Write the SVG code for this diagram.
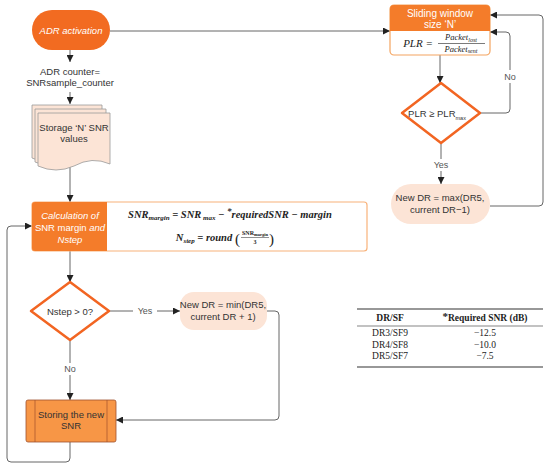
<svg xmlns="http://www.w3.org/2000/svg" width="550" height="467" viewBox="0 0 550 467">
<style>
.t{font-family:"Liberation Sans",Arial,sans-serif;font-size:9.5px;fill:#333;text-anchor:middle}
.w{fill:#fff}
.i{font-style:italic}
.m{font-family:"Liberation Serif","DejaVu Serif",serif;font-style:italic;font-weight:bold;font-size:10.5px;fill:#222;text-anchor:middle}
.c{fill:none;stroke:#666;stroke-width:1}
.lbl{font-family:"Liberation Sans",Arial,sans-serif;font-size:9px;fill:#555;text-anchor:middle}
.peach{fill:#FCE4D6;stroke:none}
.dia{fill:#fff;stroke:#F26522;stroke-width:2.5;stroke-linejoin:round}
.tb{font-family:"Liberation Serif","Times New Roman",serif;font-size:9.5px;fill:#222;text-anchor:middle}
</style>
<defs>
<marker id="ar" viewBox="0 0 10 10" refX="10" refY="5" markerWidth="7" markerHeight="7" orient="auto" markerUnits="userSpaceOnUse">
<path d="M0,0 L10,5 L0,10 z" fill="#222"/>
</marker>
</defs>
<rect width="550" height="467" fill="#fff"/>

<g id="connectors">
<path class="c" d="M110,31 H390" marker-end="url(#ar)"/>
<path class="c" d="M70,50 V62" marker-end="url(#ar)"/>
<path class="c" d="M70,92 V104" marker-end="url(#ar)"/>
<path class="c" d="M70,165 V202" marker-end="url(#ar)"/>
<path class="c" d="M440,55 V83" marker-end="url(#ar)"/>
<path class="c" d="M480,113 H506 Q510,113 510,109 V36 Q510,32 506,32 H490" marker-end="url(#ar)"/>
<path class="c" d="M441,143 V184" marker-end="url(#ar)"/>
<path class="c" d="M490,206 H539 Q543,206 543,202 V19 Q543,15 539,15 H490" marker-end="url(#ar)"/>
<path class="c" d="M70,251 V282" marker-end="url(#ar)"/>
<path class="c" d="M109,311 H180" marker-end="url(#ar)"/>
<path class="c" d="M70,340 V400" marker-end="url(#ar)"/>
<path class="c" d="M267,311 H275 Q279,311 279,315 V416 Q279,420 275,420 H116" marker-end="url(#ar)"/>
<path class="c" d="M70,442 V458 Q70,462 66,462 H11 Q7,462 7,458 V230 Q7,226 11,226 H32" marker-end="url(#ar)"/>
<rect x="498" y="70" width="24" height="13" fill="#fff"/>
<text class="lbl" x="510" y="80">No</text>
<rect x="430" y="159" width="22" height="12" fill="#fff"/>
<text class="lbl" x="441" y="168">Yes</text>
<rect x="133" y="305" width="24" height="12" fill="#fff"/>
<text class="lbl" x="145" y="314">Yes</text>
<rect x="60" y="363" width="20" height="12" fill="#fff"/>
<text class="lbl" x="70" y="372">No</text>
</g>

<g id="adr-activation">
<rect x="32" y="10" width="78" height="40" rx="20" fill="#F26B21"/>
<text class="t w i" x="71" y="33.5">ADR activation</text>
</g>

<g id="adr-counter">
<text class="t" x="70" y="75">ADR counter=</text>
<text class="t" x="70" y="86">SNRsample_counter</text>
</g>

<g id="storage">
<path d="M32,105 H102 V155 Q84,148 66,158 Q48,166 32,158 Z" fill="#FCE4D6" stroke="#999" stroke-width="0.8"/>
<path d="M35,109 H106 V159 Q88,152 70,162 Q52,170 35,162 Z" fill="#FCE4D6" stroke="#999" stroke-width="0.8"/>
<path d="M38,113 H110 V164 Q92,156 74,166 Q56,174 38,166 Z" fill="#FCE4D6" stroke="#999" stroke-width="0.8"/>
<text class="t" x="74" y="131">Storage ‘N’ SNR</text>
<text class="t" x="74" y="142">values</text>
</g>

<g id="sliding-window">
<rect x="390" y="5" width="100" height="50" rx="4" fill="#fff" stroke="#F4A460" stroke-width="1.2"/>
<path d="M394,5 H486 Q490,5 490,9 V31 H390 V9 Q390,5 394,5 Z" fill="#F47C2A"/>
<text class="t w" x="440" y="16.5" style="font-size:10px">Sliding window</text>
<text class="t w" x="440" y="27.5" style="font-size:10px">size ‘N’</text>
<text x="418" y="47" style="font-family:'Liberation Serif',serif;font-style:italic;font-size:11px;fill:#222;text-anchor:middle">PLR =</text>
<text x="461" y="40" style="font-family:'Liberation Serif',serif;font-style:italic;font-size:8.5px;fill:#222;text-anchor:middle">Packet<tspan font-size="6" dy="1.5">lost</tspan></text>
<line x1="438" y1="43.5" x2="485" y2="43.5" stroke="#222" stroke-width="0.6"/>
<text x="461" y="51.5" style="font-family:'Liberation Serif',serif;font-style:italic;font-size:8.5px;fill:#222;text-anchor:middle">Packet<tspan font-size="6" dy="1.5">sent</tspan></text>
</g>

<g id="plr-decision">
<path class="dia" d="M441,83 L480,113 L441,143 L402,113 Z"/>
<text class="t" x="437" y="117">PLR ≥ PLR<tspan font-size="5.5" dy="3">max</tspan></text>
</g>

<g id="new-dr-max">
<rect class="peach" x="391" y="184" width="99" height="40" rx="20" stroke="#999" stroke-width="0.6"/>
<text class="t" x="440" y="201">New DR = max(DR5,</text>
<text class="t" x="440" y="213">current DR−1)</text>
</g>

<g id="calculation">
<rect x="32" y="202" width="335" height="49" rx="3" fill="#fff" stroke="#F8B27A" stroke-width="1.2"/>
<path d="M35,202 H107 V251 H35 Q32,251 32,248 V205 Q32,202 35,202 Z" fill="#F47C2A"/>
<text class="t w i" x="70" y="219">Calculation of</text>
<text class="t w" x="70" y="231">SNR margin <tspan class="i">and</tspan></text>
<text class="t w i" x="70" y="243">Nstep</text>
<text class="m" x="230" y="218">SNR<tspan font-size="7" dy="2">margin</tspan><tspan dy="-2">  =  SNR</tspan><tspan font-size="7" dy="2"> max</tspan><tspan dy="-2"> − </tspan><tspan font-size="9" dy="-4">*</tspan><tspan dy="4">requiredSNR − margin</tspan></text>
<text class="m" x="204" y="241">N<tspan font-size="7" dy="2">step</tspan><tspan dy="-2"> = round</tspan></text>
<text x="235" y="244" style="font-family:'Liberation Serif',serif;font-size:15px;fill:#222">(</text>
<text x="255" y="235" style="font-family:'Liberation Serif',serif;font-weight:bold;font-size:6px;fill:#222;text-anchor:middle">SNR<tspan font-size="4.5" dy="1">margin</tspan></text>
<line x1="241" y1="237.5" x2="269" y2="237.5" stroke="#222" stroke-width="0.5"/>
<text x="255" y="244" style="font-family:'Liberation Serif',serif;font-weight:bold;font-size:6px;fill:#222;text-anchor:middle">3</text>
<text x="269" y="244" style="font-family:'Liberation Serif',serif;font-size:15px;fill:#222">)</text>
</g>

<g id="nstep-decision">
<path class="dia" d="M70,282 L109,311 L70,340 L31,311 Z"/>
<text class="t" x="70" y="314.5">Nstep &gt; 0?</text>
</g>

<g id="new-dr-min">
<rect class="peach" x="180" y="292" width="87" height="38" rx="14"/>
<text class="t" x="223" y="308">New DR = min(DR5,</text>
<text class="t" x="223" y="320">current DR + 1)</text>
</g>

<g id="storing">
<rect x="26" y="400" width="90" height="42" rx="2" fill="#F79646" stroke="#A0522D" stroke-width="0.8"/>
<line x1="35" y1="400" x2="35" y2="442" stroke="#A0522D" stroke-width="0.7"/>
<line x1="107" y1="400" x2="107" y2="442" stroke="#A0522D" stroke-width="0.7"/>
<text class="t" x="71" y="418">Storing the new</text>
<text class="t" x="71" y="429">SNR</text>
</g>

<g id="table">
<line x1="357" y1="309" x2="543" y2="309" stroke="#333" stroke-width="1.2"/>
<text class="tb" x="390" y="321" font-weight="bold">DR/SF</text>
<text class="tb" x="485" y="321" font-weight="bold"><tspan font-size="11" dy="-1">*</tspan><tspan dy="1">Required SNR (dB)</tspan></text>
<line x1="357" y1="326" x2="543" y2="326" stroke="#333" stroke-width="0.6"/>
<text class="tb" x="390" y="336">DR3/SF9</text>
<text class="tb" x="485" y="336">−12.5</text>
<text class="tb" x="390" y="347.5">DR4/SF8</text>
<text class="tb" x="485" y="347.5">−10.0</text>
<text class="tb" x="390" y="359">DR5/SF7</text>
<text class="tb" x="485" y="359">−7.5</text>
<line x1="357" y1="367" x2="543" y2="367" stroke="#333" stroke-width="1.2"/>
</g>
</svg>
